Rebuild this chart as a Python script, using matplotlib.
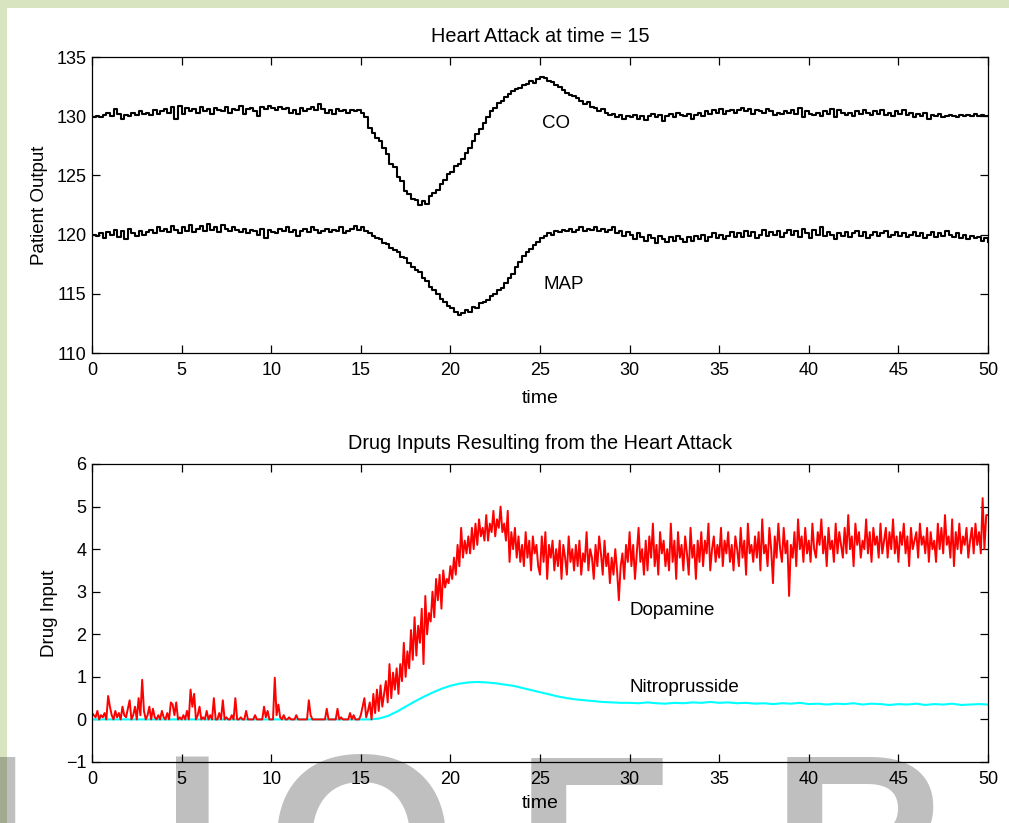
import numpy as np
import matplotlib
matplotlib.use("Agg")
import matplotlib.pyplot as plt
from matplotlib.patches import Rectangle

# ---------------- data ----------------
co = [
    129.9,130.0,129.9,130.1,130.3,130.0,130.6,130.2,129.8,130.1,130.0,130.3,130.1,130.4,130.2,
    130.3,130.1,130.5,130.2,130.4,130.6,130.3,130.8,129.8,130.9,130.2,130.7,130.4,130.6,130.3,
    130.8,130.4,130.6,130.2,130.7,130.5,130.4,130.8,130.3,130.6,130.5,130.9,130.2,130.6,130.7,
    130.4,130.0,130.8,130.6,130.9,130.7,130.5,130.8,130.6,130.7,130.3,130.5,130.2,130.7,130.4,
    130.6,130.8,130.5,131.0,130.6,130.3,130.5,130.2,130.6,130.4,130.5,130.3,130.5,130.4,130.5,
    130.3,129.9,129.0,128.6,128.2,127.9,127.3,126.8,126.0,125.7,124.9,124.5,123.7,123.4,123.0,
    122.9,122.5,122.8,122.6,123.3,123.5,123.8,124.3,124.6,125.1,125.3,125.8,126.0,126.4,126.9,
    127.3,127.9,128.5,128.9,129.4,129.9,130.4,130.7,131.1,131.3,131.6,131.9,132.1,132.3,132.4,
    132.6,132.7,133.0,132.8,133.1,133.3,133.2,133.0,132.9,132.6,132.5,132.2,132.0,131.8,131.7,
    131.5,131.3,131.0,131.2,130.8,130.7,130.4,130.6,130.3,130.1,130.2,129.9,130.1,129.8,130.0,
    129.9,130.1,129.8,130.0,129.7,130.0,130.2,129.9,130.1,129.6,130.0,130.2,129.9,130.3,130.1,
    130.0,130.2,129.8,130.1,130.3,130.0,130.4,130.2,130.5,130.3,130.6,130.2,130.4,130.5,130.3,
    130.5,130.7,130.4,130.6,130.2,130.5,130.4,130.3,130.6,130.4,130.1,130.3,130.2,130.4,130.3,
    130.5,130.2,130.7,129.9,130.4,130.2,130.1,130.3,130.0,130.4,130.2,130.6,129.9,130.5,130.3,
    130.1,130.3,130.0,130.4,130.2,130.5,130.3,130.1,130.4,130.2,130.5,130.1,130.3,130.0,130.4,
    130.2,130.5,130.1,130.3,129.9,130.2,130.0,130.3,129.8,130.1,130.0,130.2,129.9,130.0,130.1,
    130.0,129.9,130.1,130.0,130.1,130.0,130.2,130.0,130.1,130.0,130.0,
]

map_ = [
    120.0,119.9,120.1,119.7,120.2,120.0,120.4,119.8,120.3,119.6,120.5,120.1,119.9,120.3,120.0,
    120.2,120.4,120.1,120.6,120.3,120.5,120.2,120.7,120.4,120.1,120.6,120.3,120.8,120.2,120.5,
    120.7,120.3,120.9,120.4,120.6,120.2,120.8,120.5,120.3,120.6,120.4,120.2,120.5,120.1,120.4,
    120.3,120.0,120.5,119.7,120.4,120.2,120.1,120.5,120.3,120.6,120.2,120.4,119.9,120.3,120.5,
    120.2,120.6,120.4,120.1,120.3,120.5,120.2,120.4,120.3,120.6,120.1,120.3,120.5,120.7,120.4,
    120.6,120.3,120.1,119.9,119.7,119.6,119.3,119.2,118.9,118.7,118.5,118.1,118.0,117.6,117.3,
    117.0,116.8,116.3,116.1,115.6,115.3,115.0,114.6,114.3,114.0,113.8,113.5,113.2,113.4,113.6,
    113.5,113.9,113.8,114.2,114.3,114.5,114.8,115.0,115.3,115.5,115.9,116.3,116.7,117.3,117.7,
    118.2,118.5,118.8,119.1,119.4,119.7,119.9,120.1,120.0,120.3,120.2,120.4,120.3,120.5,120.2,
    120.4,120.6,120.3,120.5,120.4,120.6,120.3,120.5,120.2,120.4,120.6,120.1,120.3,119.9,120.2,
    120.0,119.6,120.1,119.8,119.5,120.0,119.7,119.3,119.9,119.6,119.4,119.8,119.5,119.9,119.6,
    119.4,119.8,119.5,119.9,119.6,120.0,119.5,119.8,120.1,119.7,120.0,119.6,119.9,120.2,119.8,
    120.1,119.8,120.3,119.9,120.2,119.7,120.0,120.4,119.9,120.2,120.0,120.3,119.8,120.1,120.4,
    120.0,120.3,119.8,120.5,120.1,119.7,120.4,120.0,120.6,119.9,120.2,120.0,119.6,120.1,119.9,
    120.2,119.8,120.1,120.3,119.9,120.2,119.7,120.0,120.2,119.9,120.1,120.3,119.8,120.0,120.2,
    119.9,120.1,119.8,120.0,120.2,119.9,120.1,119.7,120.0,120.2,119.8,120.1,119.9,120.3,120.0,
    119.8,120.1,119.7,120.0,119.6,119.9,119.7,119.8,119.5,119.7,119.4,
]

dopamine = [
    0.15,0.1,0.05,0.2,0,0.1,0.05,0.15,0,0.55,
    0.3,0.1,0,0.2,0.05,0.15,0,0.3,0.1,0.05,
    0.25,0.45,0,0.1,0.3,0,0.5,0.1,0.93,0.2,
    0,0.1,0.3,0,0.25,0.05,0,0.1,0,0.2,
    0.05,0,0.15,0,0.4,0.35,0.1,0.4,0,0.05,
    0,0.1,0,0.2,0,0.7,0.3,0.6,0,0.1,
    0.3,0,0.05,0,0.2,0,0.1,0,0.5,0,
    0,0.15,0,0.45,0,0.05,0,0,0.1,0,
    0.5,0,0,0.05,0,0,0.2,0,0,0,
    0,0.1,0,0,0,0,0.3,0.05,0.2,0,
    0,0,0.98,0.1,0.35,0.05,0,0.1,0,0,
    0.05,0,0,0,0.1,0,0,0,0,0,
    0,0.45,0.1,0,0,0,0,0,0,0,
    0,0.25,0,0,0,0,0,0.25,0,0.05,
    0,0,0,0,0.15,0,0.1,0,0,0,
    0.1,0.3,0.5,0.05,0.2,0.4,0,0.6,0.15,0.7,
    0.2,0.8,0.3,0.6,0.9,0.4,1.3,0.5,1.1,0.7,
    1.2,0.6,1.3,0.9,1.8,1.0,1.6,1.2,2.1,1.4,
    2.4,1.5,2.2,1.8,2.6,1.3,2.9,2.0,2.5,2.3,
    3.0,2.4,3.3,2.8,3.4,2.6,3.5,3.1,3.3,3.2,
    3.6,3.3,3.8,3.4,4.1,3.6,4.5,3.8,4.2,3.9,
    4.3,3.9,4.5,4.0,4.6,4.1,4.7,4.3,4.5,4.2,
    4.8,4.2,4.6,4.4,4.9,4.3,4.7,4.5,5.0,4.4,
    4.6,4.2,4.9,3.7,4.4,4.0,4.5,3.8,4.3,3.7,
    4.1,3.6,4.4,3.8,4.2,3.5,4.3,3.9,4.1,3.6,
    3.4,4.3,3.7,4.4,3.3,4.1,3.8,4.2,3.5,4.0,
    3.6,4.2,3.3,4.1,3.8,3.4,4.3,3.7,4.0,3.5,
    4.1,3.6,4.2,3.4,3.9,3.7,4.4,3.5,4.0,3.8,
    3.3,4.1,3.6,4.3,3.9,3.4,4.2,3.6,3.9,3.2,
    3.8,3.4,4.0,3.5,2.8,3.6,3.9,3.3,4.1,3.7,
    4.4,3.6,4.1,3.3,3.9,4.5,3.7,4.0,3.4,4.2,
    3.5,4.3,3.8,4.6,3.6,4.1,3.4,4.4,3.9,4.2,
    3.6,4.0,3.5,4.6,3.7,4.2,3.3,4.4,3.8,4.1,
    3.5,4.3,3.9,3.4,4.5,3.8,4.1,3.3,4.2,3.7,
    4.4,3.6,4.2,3.9,4.6,3.5,4.0,4.3,3.7,4.1,
    3.8,4.5,3.6,4.2,3.9,4.4,3.7,4.1,3.5,4.3,
    4.0,3.6,4.5,3.8,4.2,3.4,4.6,3.9,4.1,3.7,
    4.3,3.8,4.4,3.5,4.7,3.9,4.1,3.6,4.5,4.0,
    3.2,4.3,3.8,4.6,4.0,3.7,4.5,3.9,4.2,2.9,
    4.1,3.8,4.4,3.6,4.7,4.0,4.3,3.7,4.5,3.9,
    4.2,3.7,4.6,4.0,3.8,4.4,4.1,4.7,3.9,4.3,
    3.6,4.5,4.0,4.2,3.7,4.6,3.9,4.4,4.1,3.8,
    4.5,3.9,4.8,4.0,4.3,3.6,4.6,4.1,4.4,3.8,
    4.2,4.0,4.7,3.9,4.4,3.7,4.5,4.1,4.3,3.8,
    4.6,3.9,4.2,4.5,3.8,4.4,4.0,4.7,3.9,4.3,
    3.7,4.4,4.1,4.6,3.9,4.3,3.6,4.5,4.0,4.2,
    4.4,3.8,4.6,4.1,4.3,3.9,4.5,3.7,4.4,4.0,
    4.2,3.7,4.6,4.0,4.5,3.9,4.8,4.1,4.3,3.8,
    4.7,3.6,4.4,4.0,4.6,3.9,4.3,4.1,4.5,3.8,
    4.2,4.5,3.9,4.6,4.1,4.4,3.9,5.2,4.0,4.8,
    4.8,
]

nitro = [
    0,0,0,0,0,0,0,0,0,0,0,0,0,0,0,0,
    0,0,0,0,0,0,0,0,0,0,0,0,0,0,0,0,
    0.02,0.08,0.18,0.30,0.42,0.53,0.63,0.72,0.79,0.84,0.87,0.88,0.87,0.85,0.82,
    0.79,0.74,0.69,0.64,0.59,0.54,0.50,0.47,0.45,0.43,0.41,0.40,0.39,0.39,
    0.38,0.40,0.38,0.37,0.39,0.38,0.40,0.39,0.41,0.39,
    0.40,0.38,0.39,0.37,0.38,0.36,0.38,0.37,0.39,0.36,
    0.37,0.35,0.37,0.36,0.38,0.35,0.37,0.36,0.34,0.36,
    0.35,0.37,0.34,0.36,0.35,0.37,0.34,0.35,0.36,0.35,
]

t_start, t_end = 0, 50
x_ticks = [0, 5, 10, 15, 20, 25, 30, 35, 40, 45, 50]
top_yticks = [110, 115, 120, 125, 130, 135]
bot_yticks = [-1, 0, 1, 2, 3, 4, 5, 6]

# ---------------- figure ----------------
W, H = 1009, 823
fig = plt.figure(figsize=(W / 100, H / 100), dpi=100)
fig.patch.set_facecolor("white")
FONT = "Liberation Sans"
plt.rcParams["font.family"] = [FONT, "DejaVu Sans"]

# page border (green strips)
green = "#d8e4bf"
fig.add_artist(Rectangle((0, 0), 7 / W, 1, transform=fig.transFigure,
                         facecolor=green, edgecolor="none", zorder=0))
fig.add_artist(Rectangle((0, 1 - 8 / H), 1, 8 / H, transform=fig.transFigure,
                         facecolor=green, edgecolor="none", zorder=0))


def px_axes(left, top, right, bottom):
    return [left / W, 1 - bottom / H, (right - left) / W, (bottom - top) / H]


def style(ax, yticks, ylim):
    ax.set_xlim(t_start, t_end)
    ax.set_ylim(*ylim)
    ax.set_xticks(x_ticks)
    ax.set_yticks(yticks)
    ax.set_yticklabels(["\u2212" + str(-v) if v < 0 else str(v) for v in yticks])
    ax.tick_params(direction="in", length=6, width=0.9, top=True, right=True,
                   labelsize=13, colors="black")
    ax.tick_params(axis="x", pad=6.5)
    ax.tick_params(axis="y", pad=4)
    for s in ax.spines.values():
        s.set_linewidth(0.9)
    ax.set_facecolor("white")


ax1 = fig.add_axes(px_axes(92, 57, 988, 353))
t_co = np.linspace(t_start, t_end, len(co))
t_map = np.linspace(t_start, t_end, len(map_))
ax1.plot(t_co, co, color="black", lw=1.5, drawstyle="steps-post")
ax1.plot(t_map, map_, color="black", lw=1.5, drawstyle="steps-post")
style(ax1, top_yticks, (110, 135))
ax1.set_title("Heart Attack at time = 15", fontsize=14.3, pad=11)
ax1.set_xlabel("time", fontsize=14, labelpad=8)
ax1.set_ylabel("Patient Output", fontsize=13.5)
ax1.yaxis.set_label_coords(-0.049, 0.5)
ax1.text(25.1, 129.4, "CO", fontsize=13.5, va="center", ha="left")
ax1.text(25.2, 115.8, "MAP", fontsize=13.5, va="center", ha="left")

ax2 = fig.add_axes(px_axes(92, 464, 988, 762))
t_d = np.linspace(t_start, t_end, len(dopamine))
t_n = np.linspace(t_start, t_end, len(nitro))
ax2.plot(t_n, nitro, color="#00ffff", lw=1.5)
ax2.plot(t_d, dopamine, color="#ff0000", lw=1.4)
style(ax2, bot_yticks, (-1, 6))
ax2.set_title("Drug Inputs Resulting from the Heart Attack", fontsize=14.3, pad=11)
ax2.set_xlabel("time", fontsize=14, labelpad=5)
ax2.set_ylabel("Drug Input", fontsize=13.5)
ax2.yaxis.set_label_coords(-0.038, 0.5)
ax2.text(30.0, 2.55, "Dopamine", fontsize=13.5, va="center", ha="left")
ax2.text(30.0, 0.74, "Nitroprusside", fontsize=13.5, va="center", ha="left")

# stray caption glyph cut by the top edge
fig.text(600 / W, 1 + 14 / H, "p", fontsize=22, family="Liberation Serif",
         ha="left", va="baseline", color="black")

# watermark letters at the bottom (partly outside the page)
wm_letters = ["I", "J", "O", "E", "R"]
wm_left_px = [-36, 160, 267, 515, 771]
wm_family = ["Liberation Sans", "DejaVu Sans", "Liberation Sans",
             "Liberation Sans", "Liberation Sans"]
wm_size = [175, 125, 175, 175, 175]
wm_base_px = [925, 884, 925, 925, 925]
for letter, xl, fam, sz, bp in zip(wm_letters, wm_left_px, wm_family,
                                   wm_size, wm_base_px):
    fig.text(xl / W, 1 - bp / H, letter, fontsize=sz, fontweight="bold",
             family=fam, color="black", alpha=0.25,
             ha="left", va="baseline", zorder=10)

fig.savefig("out.png", dpi=100, facecolor=fig.get_facecolor())
